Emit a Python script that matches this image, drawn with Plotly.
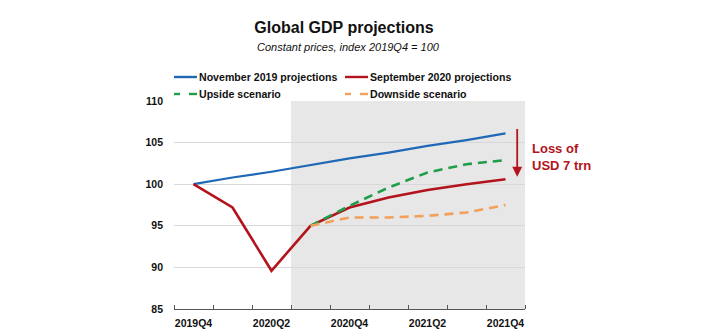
import plotly.graph_objects as go

quarters = ["2019Q4", "2020Q1", "2020Q2", "2020Q3", "2020Q4",
            "2021Q1", "2021Q2", "2021Q3", "2021Q4"]
nov2019 = [100, 100.8, 101.5, 102.3, 103.1, 103.8, 104.6, 105.3, 106.1]
sep2020 = [100, 97.2, 89.6, 95.0, 97.2, 98.4, 99.3, 100.0, 100.6]
upside = [None, None, None, 95.0, 97.4, 99.6, 101.4, 102.4, 102.9]
downside = [None, None, None, 95.0, 96.0, 96.0, 96.2, 96.6, 97.5]
series_names = ["November 2019 projections", "September 2020 projections",
                "Upside scenario", "Downside scenario"]
ytick_vals = [85, 90, 95, 100, 105, 110]

BLUE = "#1f68b5"
RED = "#b3131c"
GREEN = "#1f9d48"
ORANGE = "#f2a05a"
SANS = "Liberation Sans, Arial"
DASH = "9px,6px"

xi = list(range(len(quarters)))

fig = go.Figure()
fig.add_trace(go.Scatter(x=xi, y=nov2019, mode="lines", name=series_names[0],
                         line=dict(color=BLUE, width=2.2), showlegend=False))
fig.add_trace(go.Scatter(x=xi, y=sep2020, mode="lines", name=series_names[1],
                         line=dict(color=RED, width=2.6), showlegend=False))
fig.add_trace(go.Scatter(x=xi, y=upside, mode="lines", name=series_names[2],
                         line=dict(color=GREEN, width=2.6, dash=DASH), showlegend=False))
fig.add_trace(go.Scatter(x=xi, y=downside, mode="lines", name=series_names[3],
                         line=dict(color=ORANGE, width=2.6, dash=DASH), showlegend=False))

# plot-area pixel geometry
L, R, T, B = 174, 525, 101, 309
W, H = R - L, B - T
def xp(px):
    return (px - L) / W
def yp(py):
    return (B - py) / H

# projection-period shading
fig.add_shape(type="rect", xref="x", yref="y", x0=2.5, x1=len(quarters) - 0.5,
              y0=85, y1=110, fillcolor="#e7e7e7", line=dict(width=0), layer="below")

# manual legend
legend_items = [
    (series_names[0], BLUE, "solid", 174, 77),
    (series_names[1], RED, "solid", 345, 77),
    (series_names[2], GREEN, "dash", 174, 94),
    (series_names[3], ORANGE, "dash", 345, 94),
]
for name, col, style, px, py in legend_items:
    if style == "solid":
        fig.add_shape(type="line", xref="paper", yref="paper",
                      x0=xp(px), x1=xp(px + 23), y0=yp(py), y1=yp(py),
                      line=dict(color=col, width=2.4))
    else:
        for a, b in [(px, px + 6), (px + 15, px + 23)]:
            fig.add_shape(type="line", xref="paper", yref="paper",
                          x0=xp(a), x1=xp(b), y0=yp(py), y1=yp(py),
                          line=dict(color=col, width=2.4))
    fig.add_annotation(xref="paper", yref="paper", x=xp(px + 23), y=yp(py),
                       xanchor="left", yanchor="middle", showarrow=False,
                       text="<b>" + name + "</b>",
                       font=dict(family=SANS, size=10.6, color="#111"))

# subtitle
fig.add_annotation(xref="paper", yref="paper", x=xp(348), y=yp(47),
                   xanchor="center", yanchor="middle", showarrow=False,
                   text="<i>Constant prices, index 2019Q4 = 100</i>",
                   font=dict(family=SANS, size=11, color="#111"))

# loss arrow + label
fig.add_annotation(xref="x", yref="y", axref="x", ayref="y",
                   x=8.3, y=100.9, ax=8.3, ay=106.8, text="", showarrow=True,
                   arrowhead=2, arrowsize=1.1, arrowwidth=1.8, arrowcolor=RED)
fig.add_annotation(xref="paper", yref="paper", x=xp(530), y=yp(157),
                   xanchor="left", yanchor="middle", showarrow=False, align="left",
                   text="<b>Loss of<br>USD 7 trn</b>",
                   font=dict(family=SANS, size=13, color=RED))

fig.update_layout(
    width=720, height=334,
    margin=dict(l=L, r=720 - R, t=T, b=334 - B, pad=0, autoexpand=False),
    paper_bgcolor="white", plot_bgcolor="white",
    title=dict(text="<b>Global GDP projections</b>", xref="container", yref="container",
               x=344 / 720, y=1 - 27 / 334, xanchor="center", yanchor="middle",
               font=dict(family=SANS, size=16, color="#111")),
    xaxis=dict(range=[-0.5, len(quarters) - 0.5], tickvals=xi[::2],
               ticktext=["<b>" + q + "</b>" for q in quarters[::2]],
               ticks="", showgrid=False, zeroline=False, automargin=False,
               showline=True, linecolor="#555", linewidth=1,
               ticklabelstandoff=4,
               tickfont=dict(family=SANS, size=10.5, color="#111"),
               minor=dict(tickmode="linear", tick0=-0.5, dtick=1, ticks="inside",
                          ticklen=4, tickcolor="#555", tickwidth=1, showgrid=False),
               fixedrange=True),
    yaxis=dict(range=[85, 110], tickvals=ytick_vals,
               ticktext=["<b>" + str(v) + "</b>" for v in ytick_vals],
               ticks="", showline=False, automargin=False,
               showgrid=True, gridcolor="#d8d8d8", gridwidth=1, zeroline=False,
               ticklabelstandoff=10,
               tickfont=dict(family=SANS, size=10.5, color="#111"), fixedrange=True),
)

fig.write_html("out.html")
